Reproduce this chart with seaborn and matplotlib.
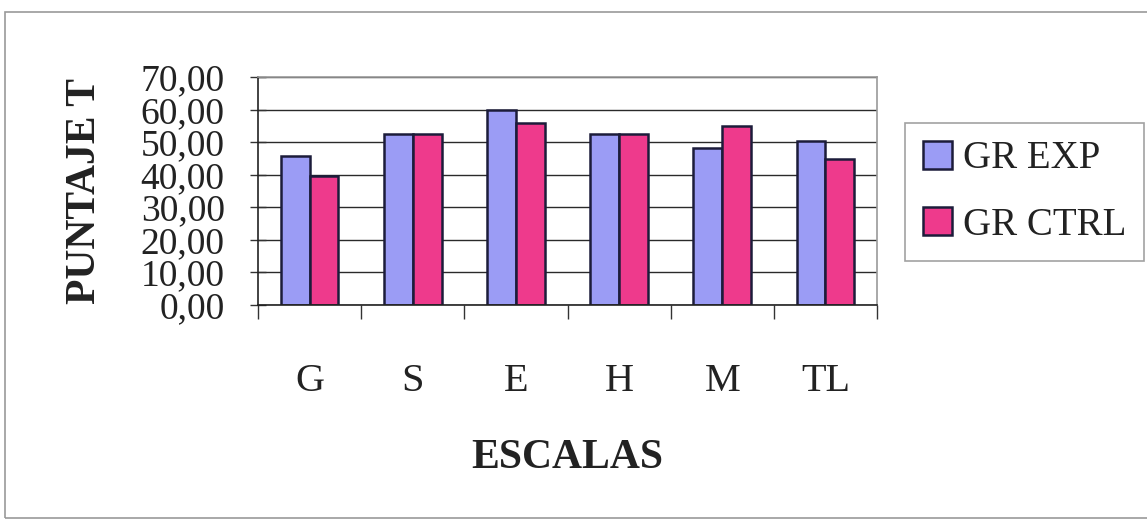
import matplotlib
matplotlib.use("Agg")
import matplotlib.pyplot as plt
from matplotlib.patches import Rectangle
from matplotlib.ticker import FixedLocator, FuncFormatter
import seaborn as sns
import pandas as pd

# Mean T scores per scale for the experimental and control groups
escalas = ["G", "S", "E", "H", "M", "TL"]
gr_exp = [45.7, 52.6, 60.0, 52.6, 48.2, 50.2]
gr_ctrl = [39.7, 52.6, 55.9, 52.6, 55.0, 44.9]
grupos = ["GR EXP", "GR CTRL"]
y_ticks = [0, 10, 20, 30, 40, 50, 60, 70]

df = pd.DataFrame({
    "escala": escalas * 2,
    "puntaje": gr_exp + gr_ctrl,
    "grupo": [grupos[0]] * len(escalas) + [grupos[1]] * len(escalas),
})

sns.set_theme(style="white")
plt.rcParams["font.family"] = ["Liberation Serif", "DejaVu Serif"]

fig = plt.figure(figsize=(11.47, 5.2), dpi=100)
ax = fig.add_axes([258 / 1147, 1 - 305 / 520, (877 - 258) / 1147, (305 - 77) / 520])

palette = {"GR EXP": "#9b9cf5", "GR CTRL": "#ee3a8c"}
sns.barplot(data=df, x="escala", y="puntaje", hue="grupo", order=escalas,
            hue_order=grupos, palette=palette, width=0.56, gap=0,
            edgecolor="#1c1c3a", linewidth=1.8, saturation=1, ax=ax,
            legend=True)

ax.set_ylim(0, 70)
ax.set_xlim(-0.5, len(escalas) - 0.5)
ax.yaxis.set_major_locator(FixedLocator(y_ticks))
ax.yaxis.set_major_formatter(FuncFormatter(lambda v, p: f"{v:.2f}".replace(".", ",")))
ax.set_axisbelow(True)
ax.grid(axis="y", color="#2a2a2a", linewidth=1.0)
ax.grid(axis="x", visible=False)

# Category boundaries carry the x tick marks
ax.xaxis.set_minor_locator(FixedLocator([i - 0.5 for i in range(len(escalas) + 1)]))
ax.tick_params(axis="x", which="major", length=0, pad=42, labelsize=29, colors="#222222")
ax.tick_params(axis="x", which="minor", length=10, width=1, color="#333333", direction="out", bottom=True)
ax.tick_params(axis="y", which="major", length=12, width=1, color="#333333", direction="inout",
               left=True, pad=18, labelsize=27, labelcolor="#222222")

for side in ["left", "bottom"]:
    ax.spines[side].set_color("#222222")
    ax.spines[side].set_linewidth(1.2)
for side in ["top", "right"]:
    ax.spines[side].set_visible(True)
    ax.spines[side].set_color("#9a9a9a")
    ax.spines[side].set_linewidth(1.2)

ax.set_xlabel("ESCALAS", fontsize=30, fontweight="bold", color="#222222", labelpad=28)
ax.set_ylabel("PUNTAJE T", fontsize=30, fontweight="bold", color="#222222", labelpad=26)

handles, labels = ax.get_legend_handles_labels()
ax.get_legend().remove()
leg = fig.legend(handles, labels, loc="upper left",
                 bbox_to_anchor=(905 / 1147, 1 - 123 / 520),
                 fontsize=28, frameon=True, fancybox=False, edgecolor="#8a8a8a",
                 handlelength=0.75, handleheight=0.75, handletextpad=0.3,
                 labelspacing=0.75, borderpad=0.45, borderaxespad=0)
leg.get_frame().set_linewidth(1.2)
for t in leg.get_texts():
    t.set_color("#222222")

# Chart-area border
fig.patches.append(Rectangle((5 / 1147, 2 / 520), 1.1, 1 - 14 / 520,
                             transform=fig.transFigure, fill=False,
                             edgecolor="#9a9a9a", linewidth=1.2))

fig.savefig("out.png", dpi=100)
